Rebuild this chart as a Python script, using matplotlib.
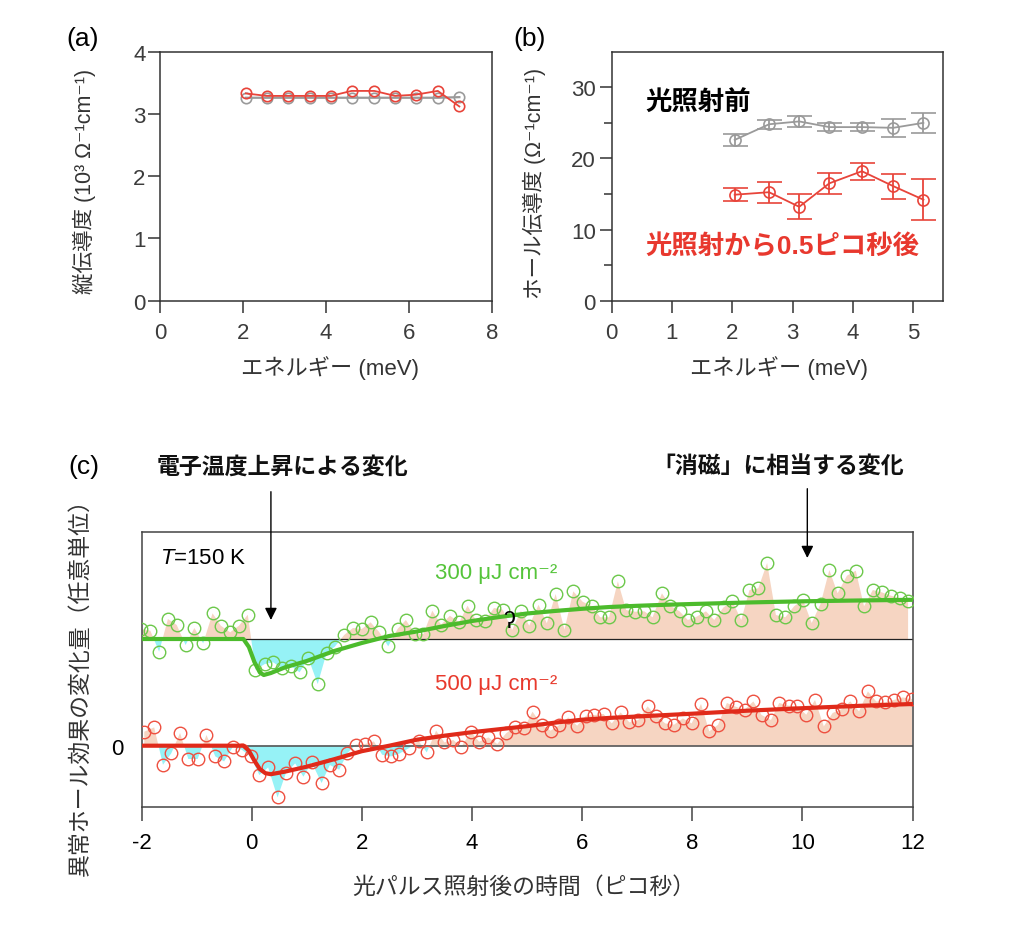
import matplotlib
matplotlib.use("Agg")
import matplotlib.pyplot as plt
import numpy as np

plt.rcParams['font.family'] = ['Liberation Sans', 'Noto Sans CJK JP', 'DejaVu Sans']
plt.rcParams['mathtext.fontset'] = 'custom'
plt.rcParams['mathtext.rm'] = 'Liberation Sans'
plt.rcParams['mathtext.it'] = 'Liberation Sans:italic'
plt.rcParams['axes.unicode_minus'] = False

# ---------------- data ----------------
# (a) longitudinal conductivity
a_energy = [2.07, 2.57, 3.09, 3.62, 4.12, 4.62, 5.17, 5.67, 6.17, 6.70, 7.22]
a_before = [3.26, 3.26, 3.26, 3.26, 3.26, 3.26, 3.26, 3.26, 3.26, 3.26, 3.27]
a_after = [3.33, 3.29, 3.29, 3.29, 3.29, 3.37, 3.37, 3.29, 3.31, 3.37, 3.12]

# (b) Hall conductivity
b_energy = [2.04, 2.61, 3.11, 3.61, 4.15, 4.67, 5.17]
b_before = [22.6, 24.8, 25.2, 24.4, 24.4, 24.3, 25.0]
b_before_err = [0.9, 0.63, 0.77, 0.52, 0.54, 1.22, 1.45]
b_after = [14.9, 15.25, 13.2, 16.5, 18.2, 16.1, 14.2]
b_after_err = [0.94, 1.5, 1.76, 1.45, 1.22, 1.76, 2.88]

# (c) time-resolved anomalous Hall change (arb. units)
green_t = [-2.01, -1.84, -1.68, -1.52, -1.36, -1.20, -1.04, -0.88, -0.71, -0.56,
           -0.39, -0.23, -0.07, 0.07, 0.24, 0.39, 0.56, 0.72, 0.87, 1.03,
           1.20, 1.36, 1.51, 1.68, 1.84, 2.00, 2.16, 2.32, 2.48, 2.65,
           2.80, 2.97, 3.12, 3.28, 3.44, 3.60, 3.77, 3.92, 4.07, 4.24,
           4.40, 4.56, 4.73, 4.89, 5.04, 5.21, 5.36, 5.52, 5.68, 5.84,
           6.01, 6.18, 6.33, 6.49, 6.65, 6.80, 6.96, 7.13, 7.28,
           7.45, 7.60, 7.77, 7.92, 8.08, 8.25, 8.40, 8.57, 8.73, 8.89,
           9.04, 9.20, 9.36, 9.52, 9.69, 9.85, 10.01, 10.17, 10.33, 10.49,
           10.64, 10.81, 10.97, 11.12, 11.28, 11.44, 11.61, 11.77, 11.92]
green_v = [1.0, 0.83, -1.27, 2.0, 1.4, -0.6, 1.1, -0.43, 2.57, 1.33,
           0.67, 1.33, 2.43, -3.07, -2.5, -2.33, -2.93, -2.73, -3.33, -1.93,
           -4.5, -1.4, -0.77, 0.4, 1.1, 1.0, 1.67, 0.67, -0.73, 1.0,
           1.9, 0.5, 0.5, 2.83, 1.43, 2.33, 1.67, 3.33, 1.9, 1.83,
           3.1, 2.93, 0.9, 2.83, 1.33, 3.43, 1.57, 4.5, 0.93, 4.77,
           3.73, 3.27, 2.17, 2.17, 5.77, 2.9, 2.73, 2.77, 2.17,
           4.57, 3.33, 2.77, 1.9, 2.23, 2.77, 1.9, 3.17, 3.77, 1.9,
           4.9, 5.07, 7.6, 2.4, 2.17, 3.27, 3.93, 1.6, 3.5, 6.9,
           4.57, 6.33, 6.83, 3.27, 4.9, 4.67, 4.33, 4.07, 3.83]
green_fit_t = [-2.0, -0.15, -0.05, 0.05, 0.15, 0.22, 0.35, 0.6, 1.0, 1.5, 2.0, 2.5, 3.0,
               3.5, 4.0, 4.5, 5.0, 5.5, 6.0, 6.5, 7.0, 7.5, 8.0, 9.0, 10.0, 11.0, 12.0]
green_fit_v = [0, 0, -0.8, -2.3, -3.35, -3.6, -3.4, -2.85, -2.2, -1.2, -0.4, 0.3, 0.75,
               1.3, 1.8, 2.2, 2.55, 2.8, 3.02, 3.2, 3.32, 3.42, 3.5, 3.65, 3.77, 3.85, 3.92]

red_t = [-1.95, -1.77, -1.61, -1.46, -1.30, -1.15, -0.98, -0.82, -0.66, -0.50,
         -0.34, -0.18, -0.02, 0.14, 0.30, 0.47, 0.62, 0.79, 0.94, 1.09,
         1.27, 1.42, 1.59, 1.74, 1.89, 2.06, 2.22, 2.37, 2.53, 2.68,
         2.86, 3.03, 3.18, 3.35, 3.50, 3.66, 3.81, 3.98, 4.13, 4.30,
         4.46, 4.62, 4.78, 4.95, 5.10, 5.27, 5.43, 5.59, 5.75, 5.91,
         6.07, 6.22, 6.39, 6.54, 6.70, 6.86, 7.02, 7.19, 7.34,
         7.51, 7.67, 7.83, 7.99, 8.16, 8.31, 8.47, 8.63, 8.79, 8.95,
         9.11, 9.26, 9.43, 9.58, 9.75, 9.91, 10.07, 10.23, 10.39, 10.55,
         10.72, 10.87, 11.03, 11.19, 11.34, 11.50, 11.66, 11.82, 11.99]
red_v = [1.4, 1.83, -1.9, -0.77, 1.27, -1.33, -1.33, 1.07, -1.07, -1.57,
         -0.1, -0.4, -1.07, -2.93, -2.17, -5.17, -2.77, -1.77, -3.1, -1.67,
         -3.73, -1.93, -2.4, -0.73, 0.1, 0.17, 0.43, -0.9, -1.07, -0.8,
         -0.23, 0.5, -0.67, 1.5, 0.33, 0.57, -0.1, 1.4, 0.4, 0.83,
         0.17, 1.23, 1.9, 1.73, 3.4, 2.07, 1.5, 2.07, 2.83, 2.0,
         3.0, 3.07, 3.17, 2.23, 3.33, 2.33, 2.57, 3.93, 3.0,
         2.23, 2.1, 2.73, 2.23, 4.17, 1.43, 2.1, 4.27, 3.9, 3.6,
         4.43, 3.07, 2.57, 4.27, 4.0, 3.93, 3.1, 4.57, 1.93, 3.27,
         3.67, 4.43, 3.43, 5.43, 4.43, 4.33, 4.57, 4.83, 4.67]
red_fit_t = [-2.0, -0.15, -0.05, 0.05, 0.15, 0.25, 0.35, 0.6, 1.0, 1.5, 2.0, 2.5, 3.0,
             3.5, 4.0, 4.5, 5.0, 5.5, 6.0, 6.5, 7.0, 8.0, 9.0, 10.0, 11.0, 12.0]
red_fit_v = [0, 0, -0.5, -1.5, -2.35, -2.75, -2.85, -2.6, -2.1, -1.35, -0.55, 0.0, 0.6,
             1.0, 1.35, 1.65, 1.95, 2.3, 2.6, 2.78, 2.92, 3.2, 3.5, 3.75, 3.98, 4.17]

green_offset = 10.67  # vertical offset of the 300 uJ trace

c_xticks = [-2, 0, 2, 4, 6, 8, 10, 12]

# ---------------- styling ----------------
GRAY = '#9a9a9a'
RED_B = '#e8443a'
GREEN_M = '#6cc84a'
GREEN_L = '#4cbb2c'
RED_M = '#ee5040'
RED_L = '#e02a1a'
PEACH = '#f6d5c2'
CYAN = '#96f2f6'
TICKC = '#3c3c3c'

W, H = 1024, 929
fig = plt.figure(figsize=(W / 100, H / 100), dpi=100)


def fx(px):
    return px / W


def fy(py):
    return 1 - py / H


ax_a = fig.add_axes([fx(160), fy(301.7), fx(491.7) - fx(160), fy(52.7) - fy(301.7)])
ax_b = fig.add_axes([fx(611.7), fy(301.7), fx(943.3) - fx(611.7), fy(52.7) - fy(301.7)])
ax_c = fig.add_axes([fx(141.5), fy(808), fx(912.5) - fx(141.5), fy(533) - fy(808)])

for ax in (ax_a, ax_b):
    for s in ax.spines.values():
        s.set_color('#333333')
        s.set_linewidth(1.1)
    ax.tick_params(which='major', direction='out', length=8.5, width=1.1,
                   colors='#333333', labelcolor=TICKC, labelsize=16)
    ax.tick_params(axis='x', pad=7)
    ax.tick_params(axis='y', pad=2)

# ---- (a)
ax_a.plot(a_energy, a_before, '-o', color=GRAY, mfc='none', mec=GRAY, ms=7.5, mew=1.2, lw=1.6)
ax_a.plot(a_energy, a_after, '-o', color=RED_B, mfc='none', mec=RED_B, ms=7.5, mew=1.2, lw=1.3)
ax_a.set_xlim(0, 8)
ax_a.set_ylim(0, 4)
ax_a.set_xticks([0, 2, 4, 6, 8])
ax_a.set_yticks([0, 1, 2, 3, 4])

# ---- (b)
ax_b.errorbar(b_energy, b_before, yerr=b_before_err, fmt='-o', color=GRAY, mfc='none',
              mec=GRAY, ms=8, mew=1.2, lw=1.3, capsize=9, capthick=1.3, elinewidth=1.3)
ax_b.errorbar(b_energy, b_after, yerr=b_after_err, fmt='-o', color=RED_B, mfc='none',
              mec=RED_B, ms=8, mew=1.2, lw=1.3, capsize=9, capthick=1.3, elinewidth=1.3)
ax_b.set_xlim(0, 5.5)
ax_b.set_ylim(0, 35)
ax_b.set_xticks([0, 1, 2, 3, 4, 5])
ax_b.set_yticks([0, 10, 20, 30])
ax_b.set_yticks([5, 15, 25], minor=True)
ax_b.tick_params(which='minor', axis='y', direction='out', length=6, width=1.1, colors='#333333')
ax_b.tick_params(axis='y', pad=3)

# ---- (c)
gt = np.array(green_t)
gv = np.array(green_v)
rt = np.array(red_t)
rv = np.array(red_v)

ax_c.fill_between(gt, green_offset, gv + green_offset, where=gv >= 0, interpolate=True,
                  color=PEACH, lw=0, zorder=1)
ax_c.fill_between(gt, green_offset, gv + green_offset, where=gv <= 0, interpolate=True,
                  color=CYAN, lw=0, zorder=1)
ax_c.fill_between(rt, 0, rv, where=rv >= 0, interpolate=True, color=PEACH, lw=0, zorder=1)
ax_c.fill_between(rt, 0, rv, where=rv <= 0, interpolate=True, color=CYAN, lw=0, zorder=1)

ax_c.axhline(green_offset, color='#222222', lw=0.9, zorder=2)
ax_c.axhline(0, color='#555555', lw=1.2, zorder=2)

ax_c.plot(gt, gv + green_offset, 'o', mfc='none', mec=GREEN_M, ms=9, mew=1.0, zorder=3)
ax_c.plot(rt, rv, 'o', mfc='none', mec=RED_M, ms=9, mew=1.0, zorder=3)

ax_c.plot(green_fit_t, np.array(green_fit_v) + green_offset, '-', color=GREEN_L, lw=3.0,
          solid_joinstyle='round', zorder=4)
ax_c.plot(red_fit_t, red_fit_v, '-', color=RED_L, lw=3.0, solid_joinstyle='round', zorder=4)

ax_c.set_xlim(-2, 12)
ax_c.set_ylim(-6.13, 21.37)
ax_c.set_xticks(c_xticks)
ax_c.set_yticks([0])
for s in ax_c.spines.values():
    s.set_color('#444444')
    s.set_linewidth(1.1)
ax_c.tick_params(axis='x', direction='out', length=10, width=1.1, colors='#444444',
                 labelcolor='black', labelsize=16, pad=8)
ax_c.tick_params(axis='y', length=0, labelsize=16, labelcolor='black', pad=13)

# hook mark on green trace
ax_c.text(4.68, 12.5, 'ʔ', ha='center', va='center', fontsize=17, color='black', zorder=5)

# arrows
ax_c.annotate('', xy=(0.35, 12.57), xytext=(0.35, 25.4), xycoords='data',
              arrowprops=dict(arrowstyle='-|>', color='black', lw=1.0, mutation_scale=18,
                              shrinkA=0, shrinkB=0), annotation_clip=False)
ax_c.annotate('', xy=(10.09, 18.77), xytext=(10.09, 25.7), xycoords='data',
              arrowprops=dict(arrowstyle='-|>', color='black', lw=1.0, mutation_scale=18,
                              shrinkA=0, shrinkB=0), annotation_clip=False)

# ---------------- texts ----------------
fig.text(fx(83), fy(39), '(a)', fontsize=19, ha='center', va='center')
fig.text(fx(530), fy(39), '(b)', fontsize=19, ha='center', va='center')
fig.text(fx(84), fy(467), '(c)', fontsize=19, ha='center', va='center')

fig.text(fx(84), fy(181), '縦伝導度 (10³ Ω⁻¹cm⁻¹)', fontsize=15.5, rotation=90,
         ha='center', va='center', color='#333333')
fig.text(fx(330), fy(368), 'エネルギー (meV)', fontsize=16, ha='center', va='center', color='#333333')
fig.text(fx(534), fy(183), 'ホール伝導度 (Ω⁻¹cm⁻¹)', fontsize=15.5, rotation=90,
         ha='center', va='center', color='#333333')
fig.text(fx(779), fy(368), 'エネルギー (meV)', fontsize=16, ha='center', va='center', color='#333333')

fig.text(fx(645), fy(103), '光照射前', fontsize=19, fontweight='bold', ha='left', va='center',
         color='black')
fig.text(fx(645), fy(247), '光照射から0.5ピコ秒後', fontsize=19, fontweight='bold', ha='left',
         va='center', color='#e8382e')

fig.text(fx(282), fy(467), '電子温度上昇による変化', fontsize=16.5, fontweight='bold',
         ha='center', va='center', color='#111111')
fig.text(fx(778), fy(467), '「消磁」に相当する変化', fontsize=16.5, fontweight='bold',
         ha='center', va='center', color='#111111')

fig.text(fx(160), fy(559), '$T$=150 K', fontsize=16, ha='left', va='center', color='black')
fig.text(fx(435), fy(574), '300 μJ cm⁻²', fontsize=16, ha='left', va='center', color='#55c43a')
fig.text(fx(435), fy(685), '500 μJ cm⁻²', fontsize=16, ha='left', va='center', color='#e8392c')

fig.text(fx(80), fy(682), '異常ホール効果の変化量（任意単位）', fontsize=16.5, rotation=90,
         ha='center', va='center', color='#333333')
fig.text(fx(524), fy(887), '光パルス照射後の時間（ピコ秒）', fontsize=16.5, ha='center',
         va='center', color='#333333')

fig.savefig('out.png', dpi=100, facecolor='white')
